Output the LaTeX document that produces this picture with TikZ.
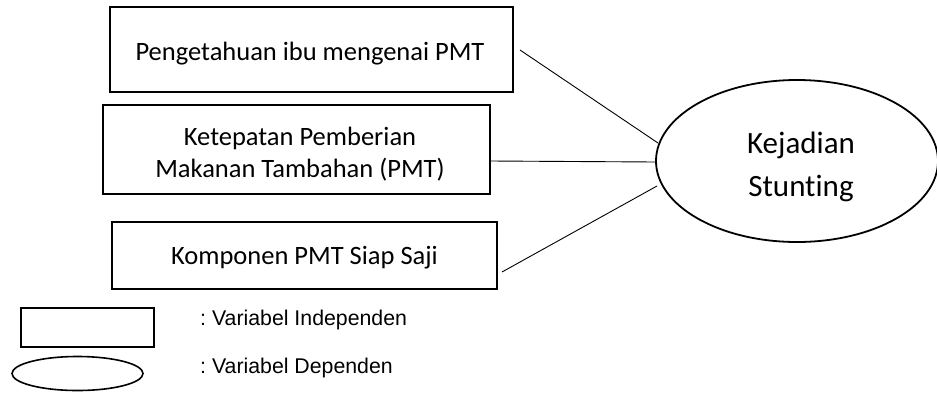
\documentclass[tikz,border=0pt]{standalone}
\usepackage{fontspec}
\setmainfont{Carlito}[RawFeature=-liga]
\newfontfamily\arialf{Liberation Sans}
\usetikzlibrary{shapes.geometric}
\frenchspacing
\begin{document}
\begin{tikzpicture}[x=1pt,y=-1pt,
  varbox/.style={draw, line width=1.8pt, rectangle, inner sep=0pt},
  boxtext/.style={inner sep=0pt, align=center, font=\fontsize{26.5}{32}\selectfont},
  depell/.style={draw, line width=1.8pt, ellipse, inner sep=0pt},
  elltext/.style={inner sep=0pt, align=center, font=\fontsize{31}{43}\selectfont},
  conn/.style={line width=0.9pt},
  legtext/.style={anchor=base west, inner sep=0pt, font=\arialf\fontsize{21.3}{24}\selectfont}]
\useasboundingbox (0,0) rectangle (937,392);
% independent variables
\node[varbox, minimum width=403, minimum height=85] (b1) at (311.5,49.5) {};
\node[boxtext] (b1t) at (310,54) {Pengetahuan ibu mengenai PMT};
\node[varbox, minimum width=387, minimum height=89] (b2) at (296.5,149.5) {};
\node[boxtext] (b2t) at (300,154) {Ketepatan Pemberian\\Makanan Tambahan (PMT)};
\node[varbox, minimum width=385, minimum height=67] (b3) at (304.5,255.5) {};
\node[boxtext] (b3t) at (304.5,258) {Komponen PMT Siap Saji};
% dependent variable
\node[depell, minimum width=282, minimum height=162] (st) at (797,161) {};
\node[elltext] (stt) at (801,167) {Kejadian\\Stunting};
% connectors
\coordinate (s1) at (520,50);
\coordinate (e1) at (658,143);
\coordinate (e2) at (656,162);
\coordinate (s3) at (502,272);
\coordinate (e3) at (657,186);
\draw[conn] (s1) -- (e1);
\draw[conn] (b2.east |- 0,161) -- (e2);
\draw[conn] (s3) -- (e3);
% legend
\node[draw, line width=1.6pt, rectangle, minimum width=133, minimum height=39, inner sep=0pt] (lr) at (87.5,327.5) {};
\node[draw, line width=1.6pt, ellipse, minimum width=131, minimum height=34, inner sep=0pt] (le) at (77.5,373.5) {};
\node[legtext] (t1) at (200,325) {: Variabel Independen};
\node[legtext] (t2) at (200,373) {: Variabel Dependen};
\end{tikzpicture}
\end{document}
